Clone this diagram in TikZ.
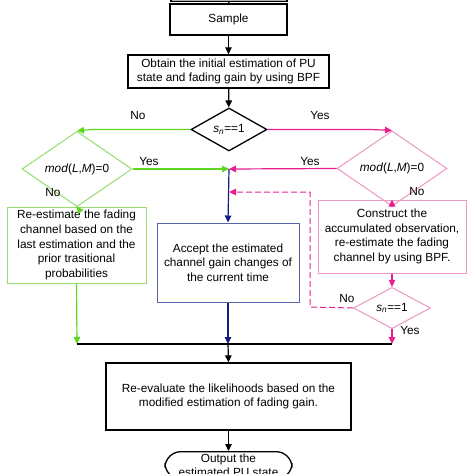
\documentclass[tikz,border=0pt]{standalone}
\usepackage{fontspec}
\setmainfont{Liberation Sans}
\usetikzlibrary{shapes.geometric,arrows.meta}
\definecolor{gline}{RGB}{95,215,30}
\definecolor{gbox}{RGB}{150,220,110}
\definecolor{pline}{RGB}{235,30,145}
\definecolor{pbox}{RGB}{235,150,195}
\definecolor{bline}{RGB}{20,30,130}
\definecolor{bbox}{RGB}{90,100,170}
\tikzset{
  txt/.style={font=\fontsize{11.8}{14.7}\selectfont, align=center},
  blk/.style={txt, draw=black, line width=1.3pt, inner sep=0pt},
  gbx/.style={txt, draw=gbox, line width=1pt, inner sep=0pt},
  pbx/.style={txt, draw=pbox, line width=1pt, inner sep=0pt},
  bbx/.style={txt, draw=bbox, line width=1pt, inner sep=0pt},
  dia/.style={diamond, txt, inner sep=0pt},
  lbl/.style={font=\fontsize{11.8}{14.7}\selectfont},
  arr/.style={-{Triangle[length=7pt,width=6.5pt]}, line width=1.2pt},
}
\begin{document}
\begin{tikzpicture}[x=1pt,y=-1pt]
\useasboundingbox (0,0) rectangle (474,474);
\clip (0,0) rectangle (474,474);
% top (cut) box
\node[draw=black, line width=1.1pt, fill=black!30, minimum width=116pt, minimum height=14pt, inner sep=0pt] (top) at (229,-5.5) {};
\node[blk, minimum width=117pt, minimum height=31pt] (sample) at (228.5,19.5) {Sample};
\draw[line width=1.2pt] (top.south) -- (sample.north);
\node[blk, minimum width=201pt, minimum height=33pt] (obtain) at (228.5,71.5) {Obtain the initial estimation of PU\\state and fading gain by using BPF};
\node[dia, draw=black, line width=1.3pt, minimum width=76pt, minimum height=43pt] (d1) at (229,129.5) {\textit{s}\textsubscript{\textit{n}}==1};
\node[dia, draw=gbox, line width=1pt, minimum width=110pt, minimum height=38pt] (d2) at (77,169) {\textit{mod}(\textit{L},\textit{M})=0};
\node[dia, draw=pbox, line width=1pt, minimum width=110pt, minimum height=41pt] (d3) at (392,168.5) {\textit{mod}(\textit{L},\textit{M})=0};
\node[gbx, minimum width=139pt, minimum height=76pt] (g) at (76.5,245) {Re-estimate the fading\\channel based on the\\last estimation and the\\prior trasitional\\probabilities};
\node[bbx, minimum width=142pt, minimum height=79pt] (b) at (228,262.5) {Accept the estimated\\channel gain changes of\\the current time};
\node[pbx, minimum width=148pt, minimum height=73pt] (m) at (392,236.5) {Construct the\\accumulated observation,\\re-estimate the fading\\channel by using BPF.};
\node[dia, draw=pbox, line width=1pt, minimum width=77pt, minimum height=30pt] (d4) at (392,308) {\textit{s}\textsubscript{\textit{n}}==1};
\node[blk, minimum width=245pt, minimum height=67pt] (r) at (228.5,396.5) {Re-evaluate the likelihoods based on the\\modified estimation of fading gain.};
\node[blk, rounded corners=16pt, minimum width=127pt, inner xsep=0pt, inner ysep=2pt, anchor=north] (o) at (228.5,451) {Output the\\estimated PU state};
% coordinates
\coordinate (J) at (229,169);
\coordinate (gk) at (92,129.5);
\coordinate (pk) at (370,129.5);
\coordinate (dl) at (229,192);
\coordinate (dc1) at (310,307);
\coordinate (dc2) at (310,192);
\coordinate (bg) at (77,344);
\coordinate (bb) at (228,344);
\coordinate (bp) at (392,344);
% connectors
\draw[arr] (sample) -- (obtain);
\draw[arr] (obtain) -- (d1);
\draw[arr, gline] (d1.west) -- (gk) -- (d2.north);
\draw[arr, pline] (d1.east) -- (pk) -- (d3.north);
\draw[arr, gline] (d2.east) -- (J);
\draw[arr, pline] (d3.west) -- (J);
\draw[arr, gline] (d2.south) -- (g.north);
\draw[arr, pline] (d3.south) -- (m.north);
\draw[arr, bline] (J) -- (b.north);
\draw[arr, pline] (m.south) -- (d4.north);
\draw[arr, pline, dash pattern=on 6pt off 3pt, line width=1pt] (d4.west) -- (dc1) -- (dc2) -- (dl);
\draw[arr, gline] (g.south) -- (bg);
\draw[arr, bline] (b.south) -- (bb);
\draw[arr, pline] (d4.south) -- (bp);
\draw[line width=1.3pt] (bg) -- (bp);
\draw[arr] (bb) -- (r.north);
\draw[arr] (r.south) -- (o.north);
% labels
\node[lbl] (l1) at (138,115) {No};
\node[lbl] (l2) at (320,115) {Yes};
\node[lbl] (l3) at (149,161) {Yes};
\node[lbl] (l4) at (53,192) {No};
\node[lbl] (l5) at (310,161) {Yes};
\node[lbl] (l6) at (417,191) {No};
\node[lbl] (l7) at (347,298) {No};
\node[lbl] (l8) at (410,330) {Yes};
\end{tikzpicture}
\end{document}
